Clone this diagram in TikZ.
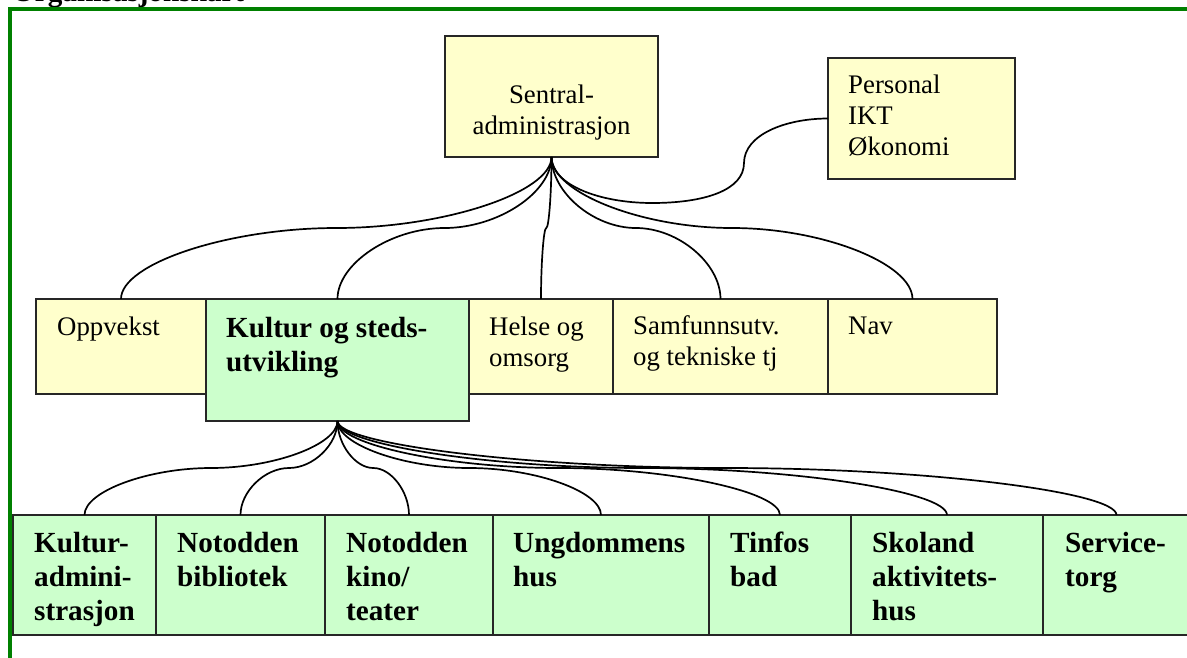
\documentclass[tikz,border=0pt]{standalone}
\usepackage{fontspec}
\setmainfont{Liberation Serif}
\usetikzlibrary{calc}
\definecolor{boxyellow}{RGB}{255,255,204}
\definecolor{boxgreen}{RGB}{204,255,204}
\definecolor{framegreen}{RGB}{0,128,0}
\newcommand{\lines}[2]{\begin{tabular}[t]{@{}#1@{}}#2\end{tabular}}
\begin{document}
\begin{tikzpicture}[x=1pt,y=-1pt,
  box/.style={draw=black!85, line width=1.8pt, inner sep=0pt, outer sep=0pt, anchor=north west},
  ylw/.style={box, fill=boxyellow},
  grn/.style={box, fill=boxgreen},
  conn/.style={draw=black, line width=1.7pt},
  orgc/.style={to path={let \p1=(\tikztostart), \p2=(\tikztotarget) in
    .. controls (\x1,{(3*(\y1)+(\y2))/4}) and ({(3*(\x1)+(\x2))/4},{((\y1)+(\y2))/2})
    .. ({((\x1)+(\x2))/2},{((\y1)+(\y2))/2})
    .. controls ({((\x1)+3*(\x2))/4},{((\y1)+(\y2))/2}) and (\x2,{((\y1)+3*(\y2))/4})
    .. (\tikztotarget)}},
  reg/.style={font=\fontsize{26.8}{31}\selectfont, inner sep=0pt, anchor=base west},
  bld/.style={font=\bfseries\fontsize{29.2}{34}\selectfont, inner sep=0pt, anchor=base west}
]
\useasboundingbox (0,0) rectangle (1187,657);
\fill[white] (0,0) rectangle (1187,657);
% title (cut off by the page edge, as in the reference)
\node[bld] (title) at (12,1.5) {Organisasjonskart};
% frame
\draw[framegreen, line width=3.5pt] (10,670) -- (10,9) -- (1200,9);
% boxes
\node[ylw, minimum width=213, minimum height=121] (sent) at (445,36) {};
\node[ylw, minimum width=187, minimum height=121] (pers) at (828,58) {};
\node[ylw, minimum width=170, minimum height=95] (opp) at (36,299) {};
\node[ylw, minimum width=144, minimum height=95] (hel) at (469,299) {};
\node[ylw, minimum width=215, minimum height=95] (sam) at (613,299) {};
\node[ylw, minimum width=169, minimum height=95] (nav) at (828,299) {};
\node[grn, minimum width=263, minimum height=122] (kul) at (206,299) {};
\node[grn, minimum width=143, minimum height=120] (ka) at (13,515) {};
\node[grn, minimum width=169, minimum height=120] (bib) at (156,515) {};
\node[grn, minimum width=168, minimum height=120] (kino) at (325,515) {};
\node[grn, minimum width=216, minimum height=120] (ung) at (493,515) {};
\node[grn, minimum width=142, minimum height=120] (tin) at (709,515) {};
\node[grn, minimum width=192, minimum height=120] (sko) at (851,515) {};
\node[grn, minimum width=147, minimum height=120] (ser) at (1043,515) {};
% connectors
\draw[conn] (sent.south) to[orgc] (opp.north);
\draw[conn] (sent.south) to[orgc] (kul.north);
\draw[conn] (sent.south) to[orgc] (hel.north);
\draw[conn] (sent.south) to[orgc] (sam.north);
\draw[conn] (sent.south) to[orgc] (nav.north);
\draw[conn] (sent.south) .. controls (551.5,185) and (600,203) .. (652,203)
  .. controls (705,203) and (744,190) .. (744,163)
  .. controls (744,135) and (785,118.5) .. (pers.west);
\draw[conn] (kul.south) to[orgc] (ka.north);
\draw[conn] (kul.south) to[orgc] (bib.north);
\draw[conn] (kul.south) to[orgc] (kino.north);
\draw[conn] (kul.south) to[orgc] (ung.north);
\draw[conn] (kul.south) to[orgc] (tin.north);
\draw[conn] (kul.south) to[orgc] (sko.north);
\draw[conn] (kul.south) to[orgc] (ser.north);
% texts
\node[reg, anchor=base] (tsent) at (551.5,103) {\lines{c}{Sentral-\\administrasjon}};
\node[reg] (tpers) at (848,93) {\lines{l}{Personal\\IKT\\Økonomi}};
\node[reg] (topp) at (57,335) {Oppvekst};
\node[bld] (tkul) at (226,337) {\lines{l}{Kultur og steds-\\utvikling}};
\node[reg] (thel) at (489,335) {\lines{l}{Helse og\\omsorg}};
\node[reg] (tsam) at (633,334) {\lines{l}{Samfunnsutv.\\og tekniske tj}};
\node[reg] (tnav) at (848,334) {Nav};
\node[bld] (tka) at (34,552) {\lines{l}{Kultur-\\admini-\\strasjon}};
\node[bld] (tbib) at (177,552) {\lines{l}{Notodden\\bibliotek}};
\node[bld] (tkino) at (346,552) {\lines{l}{Notodden\\kino/\\teater}};
\node[bld] (tung) at (513,552) {\lines{l}{Ungdommens\\hus}};
\node[bld] (ttin) at (730,552) {\lines{l}{Tinfos\\bad}};
\node[bld] (tsko) at (872,552) {\lines{l}{Skoland\\aktivitets-\\hus}};
\node[bld] (tser) at (1065,552) {\lines{l}{Service-\\torg}};
\end{tikzpicture}
\end{document}
